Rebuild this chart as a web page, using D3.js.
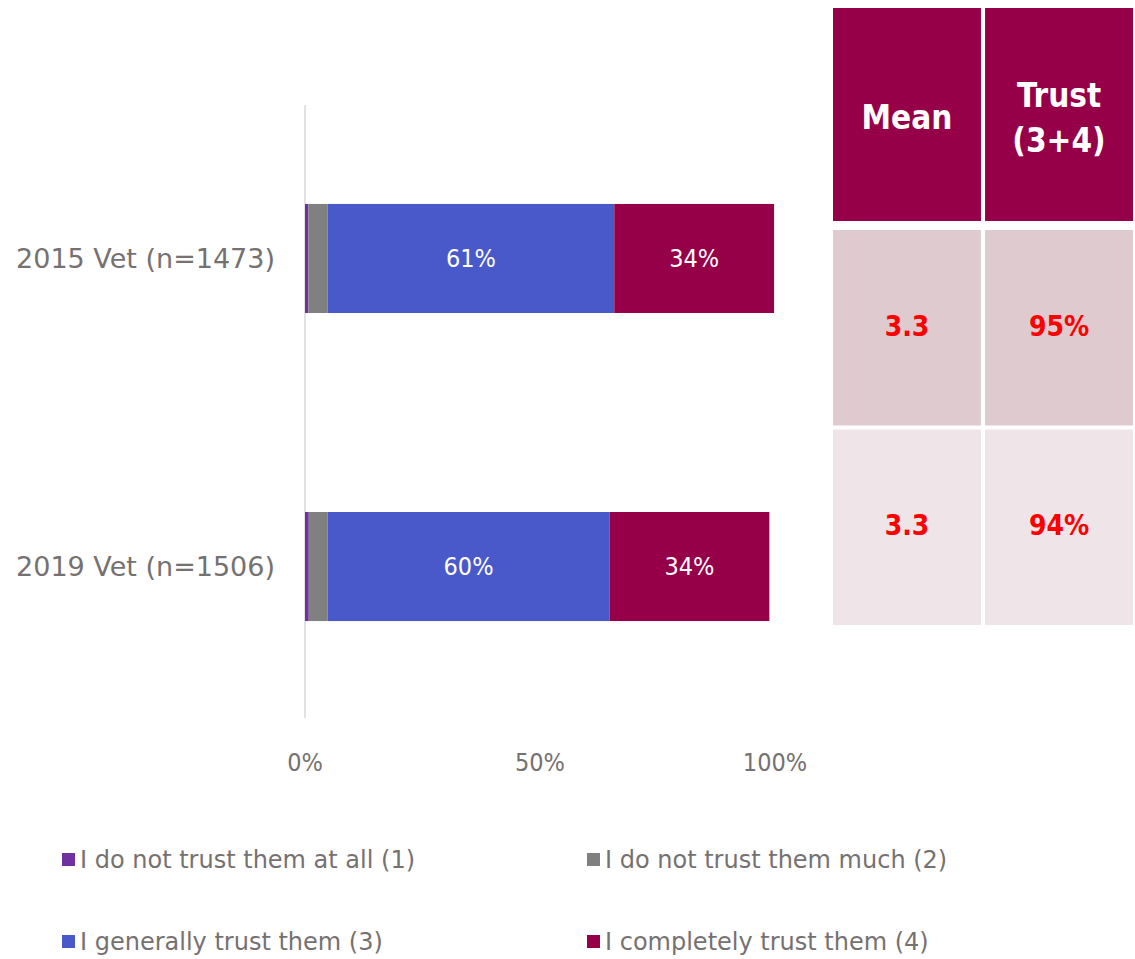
<!DOCTYPE html>
<html><head><meta charset="utf-8">
<script src="https://cdn.jsdelivr.net/npm/d3@7"></script>
<style>
body{margin:0;background:#fff;}
svg{display:block;}
</style></head>
<body><svg id="c" width="1135" height="959"></svg>
<script>
const categories = ["2015 Vet (n=1473)", "2019 Vet (n=1506)"];
const seriesNames = ["I do not trust them at all (1)", "I do not trust them much (2)", "I generally trust them (3)", "I completely trust them (4)"];
const seriesColors = ["#7030a0", "#808080", "#4a59c9", "#960048"];
const notAtAll = [0.7, 0.8];
const notMuch = [4.1, 4.0];
const generally = [61, 60];
const completely = [34, 34];
const xTicks = [0, 50, 100];
const tableHeaders = ["Mean", "Trust (3+4)"];
const meanValues = ["3.3", "3.3"];
const trustValues = ["95%", "94%"];
const rowColors = ["#dfcbcf", "#efe4e7"];

const font = "'DejaVu Sans Condensed', 'DejaVu Sans', sans-serif";
const fontWide = "'DejaVu Sans', sans-serif";
const svg = d3.select("#c");
const x = d3.scaleLinear().domain([0, 100]).range([305, 775]);
const y = d3.scaleBand().domain(categories).range([106, 719]).paddingInner(0.646).paddingOuter(0.318);

const series = [notAtAll, notMuch, generally, completely];
const stacked = categories.map((c, i) => {
  let acc = 0;
  return series.map((s, k) => { const d = {cat: c, k, v: s[i], x0: acc, x1: acc + s[i]}; acc += s[i]; return d; });
});

// axis line
svg.append("line").attr("x1", x(0)).attr("x2", x(0)).attr("y1", 105).attr("y2", 718)
  .attr("stroke", "#d9d9d9").attr("stroke-width", 1.5);

const g = svg.append("g");
stacked.forEach(row => {
  g.selectAll(null).data(row).enter().append("rect")
    .attr("x", d => x(d.x0)).attr("width", d => x(d.x1) - x(d.x0))
    .attr("y", d => y(d.cat)).attr("height", y.bandwidth())
    .attr("fill", d => seriesColors[d.k]);
  g.selectAll(null).data(row.filter(d => d.v >= 10)).enter().append("text")
    .attr("x", d => (x(d.x0) + x(d.x1)) / 2).attr("y", d => y(d.cat) + y.bandwidth() / 2)
    .attr("dy", "0.35em").attr("text-anchor", "middle")
    .attr("fill", "#fff").attr("font-family", font).attr("font-size", 25)
    .text(d => Math.round(d.v) + "%");
});

// category labels
svg.selectAll(".cat").data(categories).enter().append("text")
  .attr("x", 275).attr("y", d => y(d) + y.bandwidth() / 2).attr("dy", "0.35em")
  .attr("text-anchor", "end").attr("fill", "#767171").attr("font-family", fontWide).attr("font-size", 27)
  .text(d => d);

// x tick labels
svg.selectAll(".xt").data(xTicks).enter().append("text")
  .attr("x", d => x(d)).attr("y", 762).attr("dy", "0.35em").attr("text-anchor", "middle")
  .attr("fill", "#767171").attr("font-family", font).attr("font-size", 25)
  .text(d => d + "%");

// table
const cx = d3.scaleBand().domain(tableHeaders).range([833, 1133]).paddingInner(0.027).paddingOuter(0);
const headTop = 8, headBot = 221;
const ry = d3.scaleBand().domain(categories).range([230, 625]).paddingInner(0.02).paddingOuter(0);
tableHeaders.forEach(h => {
  svg.append("rect").attr("x", cx(h)).attr("y", headTop).attr("width", cx.bandwidth()).attr("height", headBot - headTop).attr("fill", "#960048");
  const lines = h === "Mean" ? ["Mean"] : ["Trust", "(3+4)"];
  const cy = (headTop + headBot) / 2 + 3;
  lines.forEach((l, j) => {
    svg.append("text").attr("x", cx(h) + cx.bandwidth() / 2)
      .attr("y", cy + (j - (lines.length - 1) / 2) * 45).attr("dy", "0.35em")
      .attr("text-anchor", "middle").attr("fill", "#fff").attr("font-weight", "bold")
      .attr("font-family", font).attr("font-size", 33).text(l);
  });
});
categories.forEach((c, i) => {
  [meanValues[i], trustValues[i]].forEach((v, j) => {
    const h = tableHeaders[j];
    svg.append("rect").attr("x", cx(h)).attr("y", ry(c)).attr("width", cx.bandwidth()).attr("height", ry.bandwidth()).attr("fill", rowColors[i]);
    svg.append("text").attr("x", cx(h) + cx.bandwidth() / 2).attr("y", ry(c) + ry.bandwidth() / 2 - 2).attr("dy", "0.35em")
      .attr("text-anchor", "middle").attr("fill", "#ff0000").attr("font-weight", "bold")
      .attr("font-family", font).attr("font-size", 28).text(v);
  });
});

// legend
const legPos = [[62, 860], [587, 860], [62, 942], [587, 942]];
seriesNames.forEach((n, k) => {
  const [lx, ly] = legPos[k];
  svg.append("rect").attr("x", lx).attr("y", ly - 7).attr("width", 13).attr("height", 13).attr("fill", seriesColors[k]);
  svg.append("text").attr("x", lx + 18).attr("y", ly).attr("dy", "0.35em")
    .attr("fill", "#767171").attr("font-family", fontWide).attr("font-size", 24).text(n);
});
</script></body></html>
